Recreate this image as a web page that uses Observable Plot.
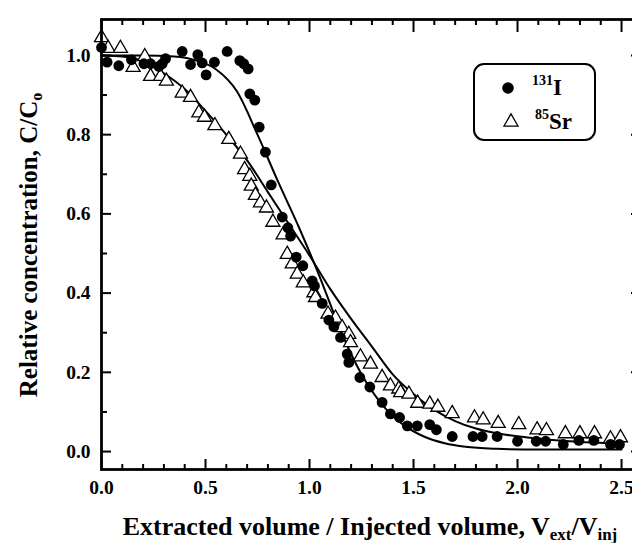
<!DOCTYPE html>
<html><head><meta charset="utf-8">
<script src="https://cdn.jsdelivr.net/npm/d3@7"></script>
<script src="https://cdn.jsdelivr.net/npm/@observablehq/plot@0.6"></script>
<style>body{margin:0;background:#fff} svg{display:block}</style>
</head><body><div id="chart"></div>
<script>
// 131I measured points
const iodineX = [0.0,0.027,0.083,0.144,0.204,0.236,0.276,0.292,0.308,0.388,0.428,0.463,0.484,0.503,0.543,0.604,0.665,0.684,0.705,0.713,0.737,0.758,0.788,0.816,0.869,0.896,0.909,0.936,0.968,1.013,1.024,1.061,1.093,1.117,1.149,1.181,1.189,1.242,1.29,1.349,1.389,1.433,1.47,1.518,1.578,1.61,1.686,1.786,1.83,1.902,2.0,2.09,2.135,2.22,2.295,2.367,2.447,2.49];
const iodineY = [1.02,0.983,0.974,0.989,0.979,0.979,0.972,0.979,0.992,1.01,0.977,1.002,0.981,0.951,0.983,1.01,0.987,0.979,0.966,0.903,0.887,0.819,0.756,0.673,0.592,0.565,0.544,0.491,0.469,0.431,0.418,0.374,0.332,0.315,0.288,0.246,0.225,0.187,0.163,0.124,0.095,0.086,0.065,0.065,0.068,0.055,0.038,0.038,0.038,0.038,0.026,0.026,0.026,0.018,0.028,0.028,0.018,0.018];
// 85Sr measured points
const strontiumX = [0.0,0.032,0.091,0.152,0.208,0.236,0.284,0.312,0.388,0.428,0.468,0.495,0.545,0.612,0.668,0.688,0.713,0.72,0.74,0.764,0.793,0.824,0.873,0.893,0.917,0.941,0.97,1.021,1.029,1.089,1.125,1.157,1.189,1.197,1.245,1.293,1.349,1.389,1.429,1.438,1.478,1.52,1.578,1.617,1.686,1.793,1.835,1.907,2.006,2.094,2.139,2.23,2.30,2.37,2.447,2.495];
const strontiumY = [1.045,1.018,1.018,0.97,0.997,0.947,0.947,0.935,0.905,0.894,0.855,0.844,0.823,0.788,0.751,0.712,0.695,0.67,0.647,0.628,0.615,0.579,0.547,0.498,0.474,0.448,0.426,0.401,0.389,0.347,0.337,0.313,0.296,0.275,0.239,0.221,0.187,0.166,0.158,0.149,0.145,0.122,0.12,0.112,0.096,0.085,0.08,0.071,0.068,0.055,0.053,0.045,0.045,0.045,0.032,0.035];
// fitted curves
const fitIX = [0,0.2,0.35,0.45,0.55,0.65,0.75,0.85,0.95,1.05,1.15,1.25,1.35,1.45,1.55,1.65,1.75,1.9,2.1,2.5];
const fitIY = [1.0,1.0,0.997,0.988,0.965,0.91,0.80,0.68,0.565,0.44,0.305,0.195,0.118,0.068,0.038,0.021,0.012,0.007,0.005,0.005];
const fitSrX = [0,0.1,0.2,0.3,0.4,0.5,0.6,0.7,0.8,0.9,1.0,1.1,1.2,1.3,1.4,1.5,1.6,1.7,1.8,1.9,2.06,2.25,2.5];
const fitSrY = [1.0,0.997,0.985,0.955,0.915,0.86,0.80,0.735,0.655,0.575,0.495,0.41,0.335,0.265,0.195,0.145,0.105,0.077,0.058,0.046,0.035,0.026,0.02];
// ticks
const xTicks = [0,0.5,1.0,1.5,2.0,2.5];
const xMinor = [0.1,0.2,0.3,0.4,0.6,0.7,0.8,0.9,1.1,1.2,1.3,1.4,1.6,1.7,1.8,1.9,2.1,2.2,2.3,2.4];
const yTicks = [0,0.2,0.4,0.6,0.8,1.0];
const yMinor = [0.1,0.3,0.5,0.7,0.9];

const W = 632, H = 543;
const mT = 19, mB = 74, mL = 101, mR = -9;
const fH = H - mT - mB, fW = W - mL - mR;
const serif = "Liberation Serif, Times New Roman, serif";

const iodine = iodineX.map((x,i)=>({x, y: iodineY[i]}));
const strontium = strontiumX.map((x,i)=>({x, y: strontiumY[i]}));
const fitI = fitIX.map((x,i)=>({x, y: fitIY[i]}));
const fitSr = fitSrX.map((x,i)=>({x, y: fitSrY[i]}));

const chart = Plot.plot({
  width: W, height: H,
  marginTop: mT, marginBottom: mB, marginLeft: mL, marginRight: mR,
  x: {domain: [0, 2.596]},
  y: {domain: [-0.0453, 1.0907]},
  style: {fontFamily: serif, background: "white", color: "black"},
  marks: [
    Plot.line(fitI, {x: "x", y: "y", curve: "monotone-x", stroke: "black", strokeWidth: 2}),
    Plot.line(fitSr, {x: "x", y: "y", curve: "monotone-x", stroke: "black", strokeWidth: 2}),
    Plot.dot(strontium, {x: "x", y: "y", symbol: "triangle", r: 5.2, stroke: "black", fill: "white", strokeWidth: 1.3}),
    Plot.dot(iodine, {x: "x", y: "y", symbol: "circle", r: 5.4, fill: "black", stroke: "none"}),
    // inward ticks
    Plot.ruleX(xTicks, {x: d=>d, insetTop: fH - 10, stroke: "black", strokeWidth: 2}),
    Plot.ruleX(xMinor, {x: d=>d, insetTop: fH - 5, stroke: "black", strokeWidth: 2}),
    Plot.ruleX(xTicks, {x: d=>d, insetBottom: fH - 13, stroke: "black", strokeWidth: 2}),
    Plot.ruleX(xMinor, {x: d=>d, insetBottom: fH - 6, stroke: "black", strokeWidth: 2}),
    Plot.ruleY(yTicks, {y: d=>d, insetRight: fW - 10, stroke: "black", strokeWidth: 2}),
    Plot.ruleY(yMinor, {y: d=>d, insetRight: fW - 6, stroke: "black", strokeWidth: 2}),
    Plot.ruleY(yTicks, {y: d=>d, insetLeft: fW - 10, stroke: "black", strokeWidth: 2}),
    Plot.ruleY(yMinor, {y: d=>d, insetLeft: fW - 6, stroke: "black", strokeWidth: 2}),
    Plot.frame({stroke: "black", strokeWidth: 2.8}),
    Plot.axisX(xTicks, {tickSize: 0, tickPadding: 11, fontSize: 19.5, fontWeight: "bold", fontFamily: serif, tickFormat: d=>d.toFixed(1), label: null}),
    Plot.axisY(yTicks, {tickSize: 0, tickPadding: 11, fontSize: 19.5, fontWeight: "bold", fontFamily: serif, tickFormat: d=>d.toFixed(1), label: null})
  ]
});
document.getElementById("chart").appendChild(chart);

const svg = d3.select(chart);
// y title
const yt = svg.append("text")
  .attr("transform", "translate(37,245) rotate(-90)")
  .attr("text-anchor", "middle")
  .attr("font-family", serif).attr("font-weight", "bold").attr("font-size", 25)
  .attr("fill", "black");
yt.append("tspan").text("Relative concentration, C/C");
yt.append("tspan").attr("dy", 5).attr("font-size", 16).text("o");
// x title
const xt = svg.append("text")
  .attr("x", 370).attr("y", 535)
  .attr("text-anchor", "middle")
  .attr("font-family", serif).attr("font-weight", "bold").attr("font-size", 26)
  .attr("fill", "black");
xt.append("tspan").text("Extracted volume / Injected volume, V");
xt.append("tspan").attr("dy", 5).attr("font-size", 17).text("ext");
xt.append("tspan").attr("dy", -5).text("/V");
xt.append("tspan").attr("dy", 5).attr("font-size", 17).text("inj");
// legend
const lg = svg.append("g");
lg.append("rect").attr("x", 474).attr("y", 64).attr("width", 121).attr("height", 76)
  .attr("rx", 10).attr("fill", "white").attr("stroke", "black").attr("stroke-width", 2);
lg.append("circle").attr("cx", 508).attr("cy", 88).attr("r", 5.8).attr("fill", "black");
lg.append("path").attr("transform", "translate(511,122)")
  .attr("d", d3.symbol(d3.symbolTriangle, Math.PI * 5.2 * 5.2)())
  .attr("fill", "white").attr("stroke", "black").attr("stroke-width", 1.3);
const l1 = lg.append("text").attr("x", 532).attr("y", 95).attr("text-anchor", "start")
  .attr("font-family", serif).attr("font-weight", "bold").attr("font-size", 23).attr("fill", "black");
l1.append("tspan").attr("dy", -10).attr("font-size", 14).text("131");
l1.append("tspan").attr("dy", 10).text("I");
const l2 = lg.append("text").attr("x", 535).attr("y", 129).attr("text-anchor", "start")
  .attr("font-family", serif).attr("font-weight", "bold").attr("font-size", 23).attr("fill", "black");
l2.append("tspan").attr("dy", -10).attr("font-size", 14).text("85");
l2.append("tspan").attr("dy", 10).text("Sr");
</script>
</body></html>
